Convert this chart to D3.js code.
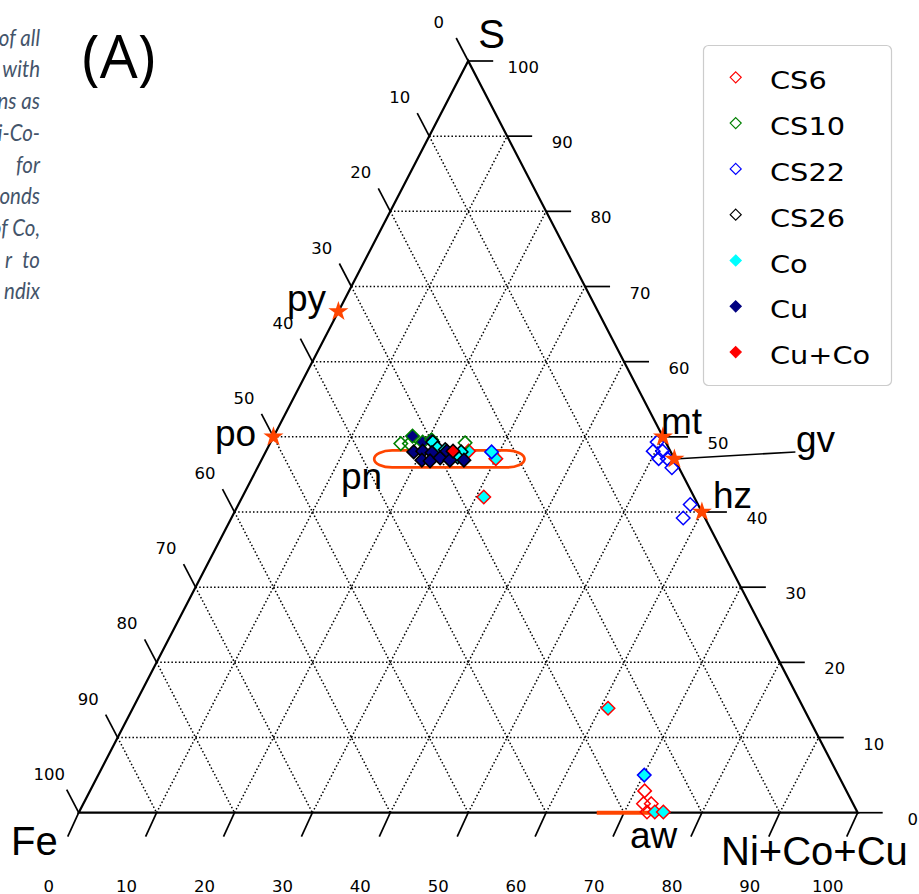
<!DOCTYPE html>
<html><head><meta charset="utf-8">
<script src="https://cdn.jsdelivr.net/npm/d3@7"></script>
<style>
html,body{margin:0;padding:0;background:#fff;}
svg{display:block;}
</style></head>
<body>
<svg id="chart" width="919" height="894"></svg>
<script>
// ---------------- data ----------------
const axisTicks = [0, 10, 20, 30, 40, 50, 60, 70, 80, 90, 100];
const gridLevels = [10, 20, 30, 40, 50, 60, 70, 80, 90];
const vertexLabels = ["S", "Fe", "Ni+Co+Cu"];
const panelLabel = "(A)";
const legendNames = ["CS6", "CS10", "CS22", "CS26", "Co", "Cu", "Cu+Co"];
const sampleNames = ["CS6", "CS10", "CS22", "CS26"];
const sampleColors = ["#ff0000", "#008000", "#0000ff", "#000000"];
const elementNames = ["Co", "Cu", "Cu+Co"];
const elementColors = ["#00ffff", "#000080", "#ff0000"];

// points: [S at.%, Ni+Co+Cu at.%, element (null = none)]
const cs6 = [
  [48.1, 26.0, "Co"], [47.1, 30.0, "Co"], [42.0, 31.0, "Co"], [13.9, 61.0, "Co"],
  [2.9, 71.2, null], [1.2, 71.9, null], [1.2, 72.9, null], [0.1, 72.9, null],
  [0.1, 73.9, "Co"], [0.1, 75.0, "Co"]
];
const cs10 = [
  [49.1, 16.8, null], [49.1, 17.9, null], [49.2, 25.0, null],
  [50.1, 17.8, "Cu"], [49.3, 19.5, "Cu"], [49.6, 20.5, "Cu"]
];
const cs22 = [
  [48.0, 29.0, "Co"], [49.3, 49.6, null], [48.1, 49.7, null], [48.1, 50.9, null],
  [47.1, 50.9, null], [47.1, 52.0, null], [45.9, 53.2, null], [41.0, 58.0, null],
  [39.2, 58.0, null], [5.0, 70.1, "Co"]
];
const cs26 = [
  [49.3, 20.8, "Co"], [48.5, 21.8, "Co"], [48.3, 22.9, "Co"], [48.0, 25.1, "Co"],
  [47.3, 25.0, "Co"],
  [48.0, 19.0, "Cu"], [48.1, 20.1, "Cu"], [46.9, 20.6, "Cu"], [47.9, 21.4, "Cu"],
  [46.8, 21.7, "Cu"], [47.2, 22.8, "Cu"], [48.1, 23.2, "Cu"], [46.9, 24.2, "Cu"],
  [46.9, 26.0, "Cu"], [48.1, 24.0, "Cu+Co"]
];

// reference minerals (stars)
const starNames = ["py", "po", "mt", "gv", "hz"];
const starS = [66.67, 50, 50, 47.06, 40];
const starNiCoCu = [0, 0, 50, 52.94, 60];
// reference minerals (ranges)
const pnName = "pn", pnS = 47.06, pnRange = [14.4, 33.7];
const awName = "aw", awS = 0, awRange = [66.5, 75.0];

// side text (cut-off caption column)
const sideText = ["of all", "with", "ns as", "Ni-Co-", "for", "onds", "of Co,", "to", "ndix"];

// ---------------- drawing ----------------
const svg = d3.select("#chart");
const x = d3.scaleLinear().domain([0, 100]).range([78.7, 857.7]);
const y = d3.scaleLinear().domain([0, 100]).range([812.7, 61]);
const proj = (s, n) => [x(n + s / 2), y(s)];

const diamond = {
  draw(ctx, size) {
    const r = Math.sqrt(size) / 2;
    ctx.moveTo(0, -r); ctx.lineTo(r, 0); ctx.lineTo(0, r); ctx.lineTo(-r, 0); ctx.closePath();
  }
};

// side caption text
const sideBase = [45.5, 77, 109, 141, 172.5, 204, 236, 268, 299];
const sideFont = "Lato, 'Open Sans', sans-serif";
svg.append("g").selectAll("text").data(sideText).join("text")
  .attr("transform", (d, i) => `translate(40,${sideBase[i]}) scale(1,1.12)`)
  .attr("text-anchor", "end")
  .attr("font-family", sideFont)
  .attr("font-style", "italic")
  .attr("font-size", 20.5)
  .attr("fill", "#44546A")
  .text(d => d);
svg.append("text").attr("transform", `translate(12,268) scale(1,1.12)`).attr("text-anchor", "end")
  .attr("font-family", sideFont).attr("font-style", "italic")
  .attr("font-size", 20.5).attr("fill", "#44546A").text("r");

// panel label
svg.append("text").attr("x", 82).attr("y", 78)
  .attr("font-family", "'Open Sans', sans-serif").attr("font-size", 60)
  .attr("fill", "#000").text(panelLabel);

// grid
const grid = svg.append("g").attr("stroke", "#000").attr("stroke-width", 1.5)
  .attr("stroke-dasharray", "1.5,2.2").attr("fill", "none");
gridLevels.forEach(v => {
  const segs = [
    [proj(v, 0), proj(v, 100 - v)],
    [proj(0, v), proj(100 - v, v)],
    [proj(100 - v, 0), proj(0, 100 - v)]
  ];
  segs.forEach(sg => grid.append("line")
    .attr("x1", sg[0][0]).attr("y1", sg[0][1]).attr("x2", sg[1][0]).attr("y2", sg[1][1]));
});

// triangle
const tri = [proj(0, 0), proj(0, 100), proj(100, 0)];
svg.append("path").attr("d", d3.line()(tri) + "Z")
  .attr("fill", "none").attr("stroke", "#000").attr("stroke-width", 2.2);

// ticks
const tk = svg.append("g").attr("stroke", "#000").attr("stroke-width", 1.7);
const tl = svg.append("g").attr("font-family", "'DejaVu Sans', sans-serif")
  .attr("font-size", 16.5).attr("fill", "#000").attr("text-anchor", "middle");
axisTicks.forEach(t => {
  // bottom: Ni+Co+Cu
  let p = proj(0, t);
  tk.append("line").attr("x1", p[0]).attr("y1", p[1]).attr("x2", p[0] - 11).attr("y2", p[1] + 24);
  tl.append("text").attr("x", p[0] - 30).attr("y", 891.7).text(t);
  // left: Fe
  p = proj(100 - t, 0);
  tk.append("line").attr("x1", p[0]).attr("y1", p[1]).attr("x2", p[0] - 12).attr("y2", p[1] - 23);
  tl.append("text").attr("x", p[0] - 29.5).attr("y", p[1] - 33).text(t);
  // right: S
  p = proj(t, 100 - t);
  tk.append("line").attr("x1", p[0]).attr("y1", p[1]).attr("x2", p[0] + 25).attr("y2", p[1]);
  tl.append("text").attr("x", p[0] + 55).attr("y", p[1] + 12).text(t);
});

// vertex labels
const vl = svg.append("g").attr("font-family", "'Liberation Sans', Arial, sans-serif")
  .attr("font-size", 40).attr("fill", "#000");
vl.append("text").attr("x", 491.7).attr("y", 48.3).attr("text-anchor", "middle").text(vertexLabels[0]);
vl.append("text").attr("x", 11).attr("y", 855).text(vertexLabels[1]);
vl.append("text").attr("x", 721).attr("y", 865).text(vertexLabels[2]);

// reference mineral ranges
const orange = "#ff4500";
const pnL = proj(pnS, pnRange[0]), pnR = proj(pnS, pnRange[1]);
svg.append("rect").attr("x", pnL[0]).attr("y", pnL[1] - 8.5)
  .attr("width", pnR[0] - pnL[0]).attr("height", 17).attr("rx", 18).attr("ry", 8.5)
  .attr("fill", "none").attr("stroke", orange).attr("stroke-width", 2.7);
const awL = proj(awS, awRange[0]), awR = proj(awS, awRange[1]);
svg.append("line").attr("x1", awL[0]).attr("y1", awL[1]).attr("x2", awR[0]).attr("y2", awR[1])
  .attr("stroke", orange).attr("stroke-width", 4);

// gv annotation line
const gvP = proj(starS[3], starNiCoCu[3]);
svg.append("line").attr("x1", gvP[0]).attr("y1", gvP[1]).attr("x2", gvP[0] + 121).attr("y2", gvP[1] - 7)
  .attr("stroke", "#000").attr("stroke-width", 1.6);

// data points
const sym = d3.symbol().type(diamond).size(13.5 * 13.5);
[cs6, cs10, cs22, cs26].forEach((arr, si) => {
  svg.append("g").selectAll("path").data(arr).join("path")
    .attr("transform", d => { const p = proj(d[0], d[1]); return `translate(${p[0]},${p[1]})`; })
    .attr("d", sym)
    .attr("fill", d => d[2] ? elementColors[elementNames.indexOf(d[2])] : "none")
    .attr("stroke", sampleColors[si]).attr("stroke-width", 1.5);
});

// stars
const star = d3.symbol().type(d3.symbolStar).size(125);
svg.append("g").selectAll("path").data(starNames).join("path")
  .attr("transform", (d, i) => { const p = proj(starS[i], starNiCoCu[i]); return `translate(${p[0]},${p[1]})`; })
  .attr("d", star).attr("fill", orange);

// mineral labels
const mlPos = {py: [287, 311], po: [215, 446], pn: [341, 489], mt: [661, 434], gv: [796, 452], hz: [713, 508], aw: [630, 848]};
const ml = svg.append("g").attr("font-family", "'Liberation Sans', Arial, sans-serif")
  .attr("font-size", 37).attr("fill", "#000");
starNames.concat([pnName, awName]).forEach(n => {
  ml.append("text").attr("x", mlPos[n][0]).attr("y", mlPos[n][1]).text(n);
});

// legend
const lg = svg.append("g");
lg.append("rect").attr("x", 703.5).attr("y", 45.5).attr("width", 188).attr("height", 340)
  .attr("rx", 5).attr("fill", "#fff").attr("stroke", "#cccccc").attr("stroke-width", 1.2);
const lsym = d3.symbol().type(diamond).size(11 * 11);
legendNames.forEach((name, i) => {
  const cy = 77.3 + i * 45.8;
  const si = sampleNames.indexOf(name), ei = elementNames.indexOf(name);
  lg.append("path").attr("transform", `translate(735.7,${cy})`).attr("d", lsym)
    .attr("fill", si >= 0 ? "none" : elementColors[ei])
    .attr("stroke", si >= 0 ? sampleColors[si] : elementColors[ei])
    .attr("stroke-width", 1.2);
  lg.append("text").attr("transform", `translate(770,${cy + 12}) scale(1.2,1)`)
    .attr("font-family", "'DejaVu Sans', sans-serif").attr("font-size", 24)
    .attr("fill", "#000").text(name);
});
</script>
</body></html>
